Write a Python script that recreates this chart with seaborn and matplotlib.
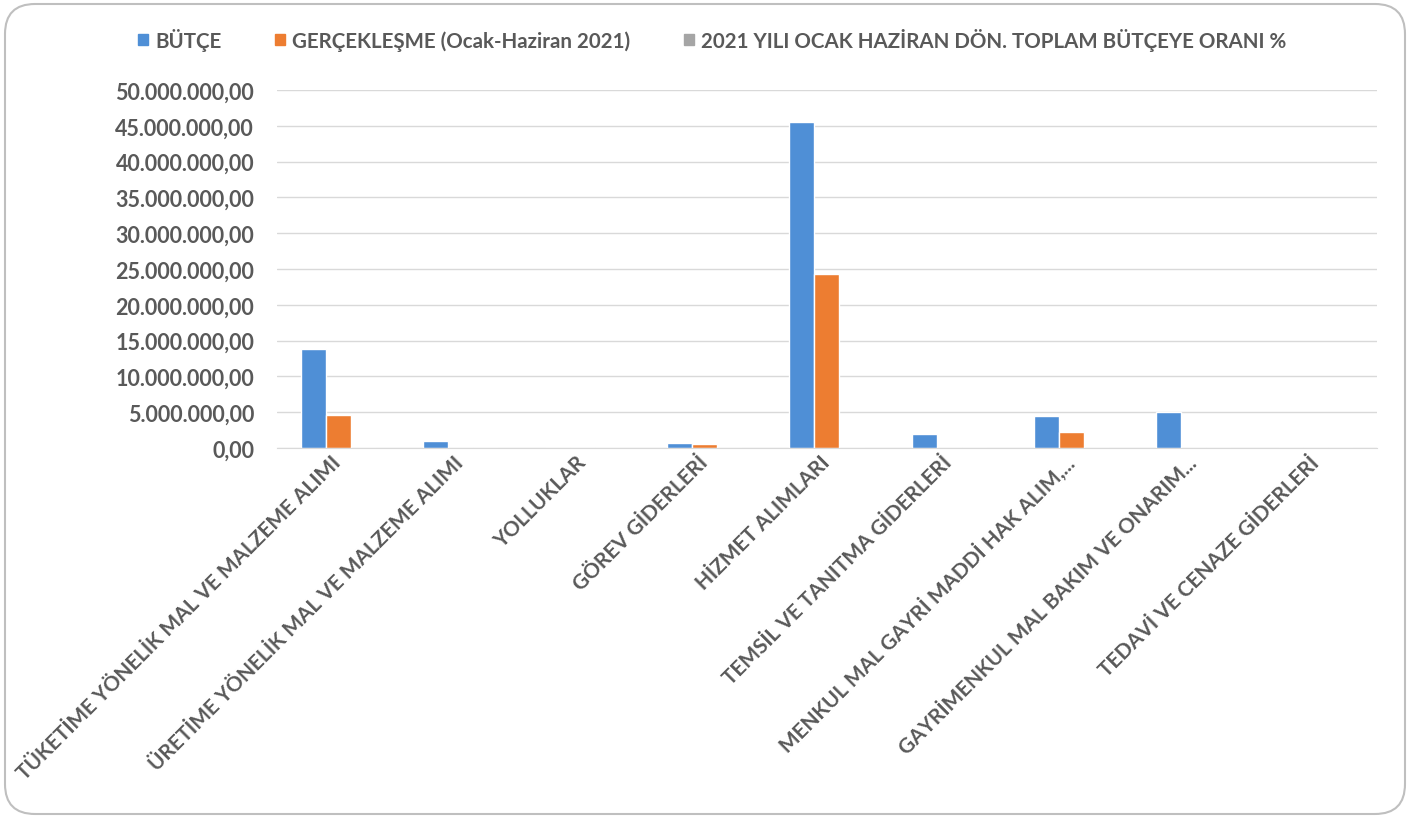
import pandas as pd
import numpy as np
import matplotlib
matplotlib.use("Agg")
import matplotlib.pyplot as plt
import seaborn as sns
from matplotlib.ticker import FuncFormatter, MultipleLocator
from matplotlib.patches import FancyBboxPatch, Patch

# data
categories = [
    "TÜKETİME YÖNELİK MAL VE MALZEME ALIMI",
    "ÜRETİME YÖNELİK MAL VE MALZEME ALIMI",
    "YOLLUKLAR",
    "GÖREV GİDERLERİ",
    "HİZMET ALIMLARI",
    "TEMSİL VE TANITMA GİDERLERİ",
    "MENKUL MAL GAYRİ MADDİ HAK ALIM,...",
    "GAYRİMENKUL MAL BAKIM VE ONARIM...",
    "TEDAVİ VE CENAZE GİDERLERİ",
]
butce = [13800000, 950000, 0, 700000, 45500000, 1950000, 4500000, 5100000, 0]
gerceklesme = [4600000, 0, 0, 500000, 24300000, 0, 2300000, 0, 0]
oran = [33.3, 0, 0, 71.4, 53.4, 0, 51.1, 0, 0]

series_names = [
    "BÜTÇE",
    "GERÇEKLEŞME (Ocak-Haziran 2021)",
    "2021 YILI OCAK HAZİRAN DÖN. TOPLAM BÜTÇEYE ORANI %",
]
colors = ["#4F8FD6", "#ED7D31", "#A5A5A5"]

df = pd.DataFrame({
    "kalem": categories * 3,
    "seri": np.repeat(series_names, len(categories)),
    "deger": butce + gerceklesme + oran,
})

sns.set_style("white")
plt.rcParams["font.family"] = ["Lato", "DejaVu Sans"]
txt = "#595959"

fig = plt.figure(figsize=(14.1, 8.2), dpi=100)
ax = fig.add_axes([0.1965, 0.4524, 0.78, 0.4366])

sns.barplot(data=df, x="kalem", y="deger", hue="seri", palette=colors,
            width=0.615, gap=0, saturation=1, ax=ax, legend=False)

ax.set_ylim(0, 50000000)
ax.yaxis.set_major_locator(MultipleLocator(5000000))
ax.yaxis.set_major_formatter(FuncFormatter(
    lambda v, p: f"{v:,.2f}".replace(",", "X").replace(".", ",").replace("X", ".")))
ax.grid(axis="y", color="#D9D9D9", lw=1)
ax.set_axisbelow(True)
for s in ["top", "right", "left"]:
    ax.spines[s].set_visible(False)
ax.spines["bottom"].set_color("#D9D9D9")
ax.set_xlabel("")
ax.set_ylabel("")
ax.tick_params(axis="y", length=0, pad=16.5, labelsize=15.5, labelcolor=txt)
ax.tick_params(axis="x", length=0, pad=8, labelsize=15, labelcolor=txt)
for lab in ax.get_yticklabels():
    lab.set_fontweight("bold")
ax.set_xticks(range(len(categories)))
ax.set_xticklabels(categories, rotation=45, ha="right", va="center",
                   rotation_mode="anchor", fontweight="bold")

handles = [Patch(color=c) for c in colors]
leg = fig.legend(handles, series_names, loc="center", bbox_to_anchor=(0.505, 0.951),
                 ncol=3, frameon=False, handlelength=0.5, handleheight=0.5,
                 handletextpad=0.35, columnspacing=2.6,
                 prop={"size": 14.8, "weight": "bold"})
for t in leg.get_texts():
    t.set_color(txt)

# rounded frame around the chart
frame = FancyBboxPatch((0.05, 0.05), 14.0, 8.1, boxstyle="round,pad=0,rounding_size=0.3",
                       transform=fig.dpi_scale_trans, ec="#BFBFBF", fc="none", lw=1.5)
fig.patches.append(frame)

fig.savefig("out.png", dpi=100)
